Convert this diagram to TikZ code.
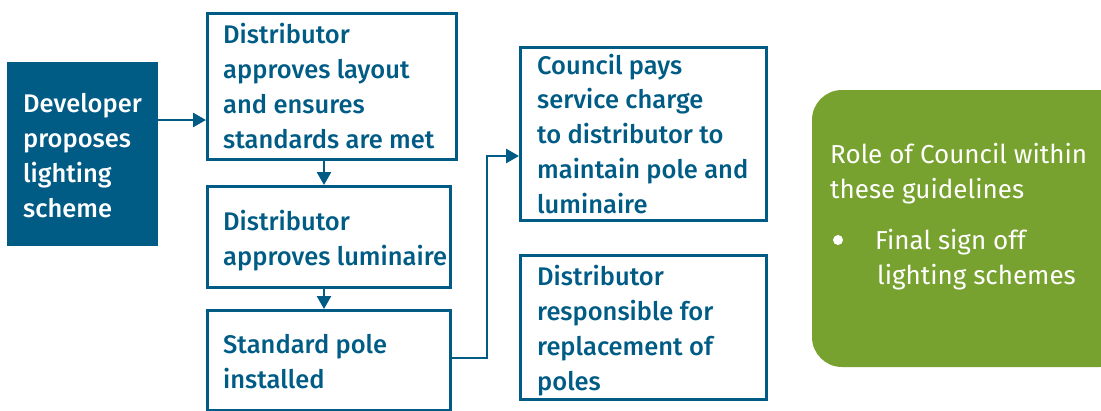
\documentclass[tikz,border=0pt]{standalone}
\usepackage{fontspec}
\setmainfont{Fira Sans}[BoldFont={Fira Sans Medium}]
\usetikzlibrary{arrows.meta}
\definecolor{dblue}{HTML}{005B85}
\definecolor{lgreen}{HTML}{78A22F}
\tikzset{
  txt/.style={font=\fontsize{25.5}{34.7}\selectfont\bfseries, align=left, inner sep=0pt, anchor=base west},
  gtxt/.style={font=\fontsize{26}{34.7}\selectfont, text=white, align=left, inner sep=0pt, anchor=base west},
  flowbox/.style={draw=dblue, line width=2.6pt, anchor=north west, inner sep=0pt},
  flowarrow/.style={draw=dblue, line width=2.6pt, -{Triangle[length=13pt,width=14pt]}},
}
\begin{document}
\begin{tikzpicture}[x=1pt,y=-1pt]
\useasboundingbox (0,0) rectangle (1101,410);
% boxes
\node[fill=dblue, anchor=north west, minimum width=151pt, minimum height=184pt, inner sep=0pt] (dev) at (7,62) {};
\node[flowbox, minimum width=249pt, minimum height=146pt] (b1) at (206,12) {};
\node[flowbox, minimum width=243pt, minimum height=101pt] (b2) at (206,185) {};
\node[flowbox, minimum width=243pt, minimum height=100pt] (b3) at (206,309) {};
\node[flowbox, minimum width=246pt, minimum height=173pt] (c1) at (519,46) {};
\node[flowbox, minimum width=246pt, minimum height=144pt] (c2) at (519,254) {};
\fill[lgreen, rounded corners=30pt] (812,90) rectangle (1130,367);
% texts (anchored at the baseline of their last line)
\node[txt, text=white] (devt) at (23,217) {Developer\\proposes\\lighting\\scheme};
\node[txt, text=dblue] (b1t) at (223,148) {Distributor\\approves layout\\and ensures\\standards are met};
\node[txt, text=dblue] (b2t) at (223,265) {Distributor\\approves luminaire};
\node[txt, text=dblue] (b3t) at (223,388) {Standard pole\\installed};
\node[txt, text=dblue] (c1t) at (537,213) {Council pays\\service charge\\to distributor to\\maintain pole and\\luminaire};
\node[txt, text=dblue] (c2t) at (537,390) {Distributor\\responsible for\\replacement of\\poles};
\node[gtxt] (g) at (830,198) {Role of Council within\\these guidelines};
\fill[white] (838,240) circle (5pt);
\node[gtxt] (gt) at (875,284) {Final sign off\\\hspace*{2pt}lighting schemes};
% arrows
\draw[flowarrow] (dev.east |- 0,120) -- (b1.west |- 0,120);
\draw[flowarrow] (b1.south -| 324,0) -- (b2.north -| 324,0);
\draw[flowarrow] (b2.south -| 324,0) -- (b3.north -| 324,0);
\coordinate (k1) at (487,358);
\coordinate (k2) at (487,156);
\draw[flowarrow] (b3.east |- k1) -- (k1) -- (k2) -- (c1.west |- k2);
\end{tikzpicture}
\end{document}
